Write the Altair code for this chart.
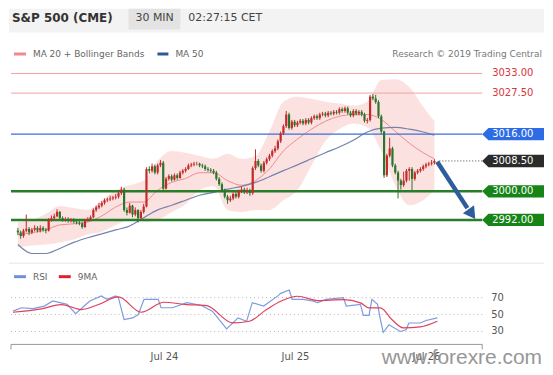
import altair as alt
import pandas as pd

FONT = "DejaVu Sans"
W = 537
H_PRICE = 255
H_RSI = 82

# ---------------- data ----------------
candle_idx = list(range(150))
opens = [
    2989.0, 2988.5, 2987.5, 2989.0, 2989.5, 2988.5, 2989.25, 2989.75, 2989.0, 2989.75,
    2989.25, 2989.0, 2992.0, 2992.5, 2993.0, 2994.25, 2992.5, 2992.0, 2992.25, 2991.75,
    2992.0, 2991.5, 2991.25, 2991.0, 2990.0, 2991.75, 2992.25, 2992.75, 2994.75, 2995.5,
    2996.0, 2996.75, 2997.5, 2997.75, 2998.0, 2998.25, 2998.5, 2999.5, 3000.5, 2994.75,
    2994.0, 2996.0, 2993.5, 2994.75, 2992.5, 2994.25, 2995.75, 3006.25, 3005.75, 3007.0,
    3005.25, 3007.25, 3008.0, 3000.75, 3003.5, 3004.25, 3003.25, 3004.5, 3003.75, 3005.25,
    3005.75, 3006.25, 3007.25, 3007.5, 3007.75, 3007.75, 3007.25, 3007.0, 3006.25, 3006.0,
    3005.75, 3005.25, 3003.5, 3002.0, 3000.25, 2998.5, 2997.5, 2998.0, 2999.25, 2998.5,
    3000.0, 3000.5, 2999.75, 3000.25, 2999.5, 3006.5, 3008.5, 3007.25, 3005.75, 3008.0,
    3009.0, 3010.0, 3011.25, 3012.0, 3014.0, 3016.25, 3018.25, 3021.5, 3017.75, 3019.5,
    3018.5, 3019.25, 3019.75, 3019.0, 3020.0, 3019.25, 3020.5, 3021.0, 3020.5, 3021.5,
    3021.75, 3021.25, 3022.0, 3021.75, 3022.25, 3022.0, 3023.0, 3022.5, 3023.25, 3022.0,
    3021.25, 3022.5, 3021.75, 3022.25, 3021.5, 3019.75, 3020.0, 3026.5, 3026.0, 3025.0,
    3021.0, 3016.75, 3004.5, 3010.0, 3012.0, 3007.25, 3005.25, 3003.0, 3001.75, 3003.0,
    3005.75, 3006.25, 3003.5, 3005.25, 3005.75, 3006.25, 3007.0, 3007.5, 3007.75, 3008.0,
]
closes = [
    2988.5, 2987.5, 2989.0, 2989.5, 2988.5, 2989.25, 2989.75, 2989.0, 2989.75, 2989.25,
    2989.0, 2992.0, 2992.5, 2993.0, 2994.25, 2992.5, 2992.0, 2992.25, 2991.75, 2992.0,
    2991.5, 2991.25, 2991.0, 2990.0, 2991.75, 2992.25, 2992.75, 2994.75, 2995.5, 2996.0,
    2996.75, 2997.5, 2997.75, 2998.0, 2998.25, 2998.5, 2999.5, 3000.5, 2994.75, 2994.0,
    2996.0, 2993.5, 2994.75, 2992.5, 2994.25, 2995.75, 3006.25, 3005.75, 3007.0, 3005.25,
    3007.25, 3008.0, 3000.75, 3003.5, 3004.25, 3003.25, 3004.5, 3003.75, 3005.25, 3005.75,
    3006.25, 3007.25, 3007.5, 3007.75, 3007.75, 3007.25, 3007.0, 3006.25, 3006.0, 3005.75,
    3005.25, 3003.5, 3002.0, 3000.25, 2998.5, 2997.5, 2998.0, 2999.25, 2998.5, 3000.0,
    3000.5, 2999.75, 3000.25, 2999.5, 3006.5, 3008.5, 3007.25, 3005.75, 3008.0, 3009.0,
    3010.0, 3011.25, 3012.0, 3014.0, 3016.25, 3018.25, 3021.5, 3017.75, 3019.5, 3018.5,
    3019.25, 3019.75, 3019.0, 3020.0, 3019.25, 3020.5, 3021.0, 3020.5, 3021.5, 3021.75,
    3021.25, 3022.0, 3021.75, 3022.25, 3022.0, 3023.0, 3022.5, 3023.25, 3022.0, 3021.25,
    3022.5, 3021.75, 3022.25, 3021.5, 3019.75, 3020.0, 3026.5, 3026.0, 3025.0, 3021.0,
    3016.75, 3004.5, 3010.0, 3012.0, 3007.25, 3005.25, 3003.0, 3001.75, 3003.0, 3005.75,
    3006.25, 3003.5, 3005.25, 3005.75, 3006.25, 3007.0, 3007.5, 3007.75, 3008.0, 3008.5,
]
highs = [
    2989.75, 2989.0, 2989.5, 2993.5, 2990.0, 2989.75, 2990.5, 2990.25, 2990.5, 2990.25,
    2989.75, 2992.5, 2993.25, 2993.75, 2995.0, 2994.5, 2993.0, 2992.75, 2992.75, 2992.5,
    2992.5, 2992.0, 2991.75, 2991.5, 2992.25, 2992.75, 2993.25, 2995.25, 2996.0, 2996.75,
    2997.25, 2998.0, 2998.25, 2998.75, 2998.75, 2999.25, 3000.0, 3001.25, 3001.0, 2995.5,
    2996.75, 2996.25, 2995.5, 2995.0, 2994.75, 2996.5, 3006.75, 3007.0, 3007.75, 3007.5,
    3007.75, 3008.75, 3008.5, 3004.0, 3004.75, 3004.75, 3005.0, 3005.0, 3005.75, 3006.25,
    3006.75, 3007.75, 3008.0, 3008.25, 3008.25, 3008.0, 3007.75, 3007.5, 3006.75, 3006.5,
    3006.25, 3005.75, 3004.0, 3002.5, 3000.75, 2999.0, 2998.75, 2999.75, 2999.75, 3000.5,
    3001.25, 3001.0, 3001.0, 3000.75, 3007.0, 3011.75, 3009.0, 3007.75, 3008.5, 3009.5,
    3010.5, 3011.75, 3012.75, 3014.5, 3016.75, 3018.75, 3022.5, 3022.0, 3020.0, 3020.0,
    3019.75, 3020.25, 3020.25, 3020.5, 3020.5, 3021.0, 3021.5, 3021.5, 3022.0, 3022.25,
    3022.25, 3022.5, 3022.5, 3022.75, 3022.75, 3023.5, 3023.5, 3023.75, 3023.75, 3022.5,
    3023.0, 3023.0, 3022.75, 3022.75, 3022.0, 3020.5, 3027.0, 3027.25, 3027.0, 3025.5,
    3021.5, 3017.0, 3010.5, 3015.0, 3012.5, 3007.75, 3005.75, 3003.5, 3005.5, 3006.25,
    3006.75, 3006.75, 3005.75, 3006.25, 3006.75, 3007.5, 3008.0, 3008.25, 3008.75, 3009.0,
]
lows = [
    2987.75, 2986.75, 2987.0, 2988.5, 2987.75, 2988.0, 2988.75, 2988.5, 2988.5, 2988.75,
    2988.25, 2988.75, 2991.5, 2992.0, 2992.75, 2992.0, 2991.5, 2991.5, 2991.25, 2991.25,
    2991.0, 2990.75, 2990.5, 2989.5, 2989.75, 2991.5, 2991.75, 2992.5, 2994.25, 2995.0,
    2995.5, 2996.25, 2997.0, 2997.25, 2997.5, 2997.75, 2998.0, 2999.0, 2994.25, 2993.25,
    2993.75, 2992.75, 2993.0, 2991.25, 2992.0, 2993.75, 2995.5, 3005.0, 3005.25, 3004.75,
    3004.75, 3006.75, 3000.25, 3000.5, 3003.0, 3002.75, 3003.0, 3003.25, 3003.5, 3004.75,
    3005.25, 3006.0, 3006.75, 3007.0, 3007.25, 3006.75, 3006.5, 3005.75, 3005.5, 3005.25,
    3004.75, 3003.0, 3001.5, 2999.75, 2998.0, 2996.5, 2997.0, 2997.5, 2998.0, 2998.0,
    2999.5, 2999.25, 2999.25, 2998.75, 2999.0, 3006.0, 3006.75, 3005.25, 3005.25, 3007.5,
    3008.5, 3009.5, 3010.75, 3011.5, 3013.5, 3015.75, 3017.75, 3017.25, 3017.25, 3018.0,
    3018.0, 3018.75, 3018.5, 3018.5, 3018.75, 3018.75, 3020.0, 3020.0, 3020.0, 3021.0,
    3020.75, 3020.75, 3021.25, 3021.25, 3021.5, 3021.5, 3022.0, 3022.0, 3021.5, 3020.75,
    3020.75, 3021.25, 3021.25, 3021.0, 3019.25, 3019.0, 3019.5, 3025.5, 3024.5, 3020.5,
    3016.0, 3003.75, 3004.0, 3009.5, 3006.75, 3004.75, 2998.0, 3000.5, 3001.25, 3002.5,
    3003.0, 3000.25, 3003.0, 3004.75, 3005.25, 3005.75, 3006.5, 3007.0, 3007.25, 3007.5,
]

ma_idx = [0, 5, 10, 15, 20, 25, 30, 35, 40, 45, 50, 55, 60, 65, 70, 75, 80, 85, 90, 95,
          100, 105, 110, 115, 120, 125, 130, 135, 140, 145, 149]
bb_upper = [2991.4, 2992.0, 2993.7, 2995.9, 2995.3, 2994.8, 2997.5, 3000.3, 3001.7, 3003.0,
            3008.6, 3011.3, 3010.8, 3009.9, 3009.1, 3010.5, 3009.1, 3009.9, 3016.8, 3025.1,
            3026.5, 3025.9, 3025.1, 3024.6, 3024.0, 3025.1, 3031.2, 3031.4, 3029.2, 3023.7, 3019.6]
ma20 = [2987.9, 2988.4, 2989.2, 2990.6, 2990.9, 2991.4, 2993.1, 2995.6, 2997.0, 2997.0,
        3000.3, 3002.5, 3003.6, 3005.2, 3005.2, 3003.0, 3001.7, 3003.0, 3006.3, 3011.3,
        3014.6, 3017.4, 3019.6, 3021.0, 3021.5, 3021.5, 3020.1, 3016.8, 3013.5, 3010.8, 3009.1]
bb_lower = [2984.3, 2984.8, 2985.1, 2985.7, 2986.5, 2987.9, 2988.7, 2990.6, 2992.0, 2991.4,
            2992.0, 2994.2, 2996.4, 3000.3, 3001.4, 2994.8, 2994.2, 2994.8, 2994.8, 2997.5,
            3000.3, 3007.2, 3014.1, 3017.4, 3019.0, 3017.9, 3011.3, 3001.7, 2996.1, 2997.5, 3000.3]
ma50 = [2985.1, 2982.6, 2982.6, 2984.0, 2985.7, 2987.0, 2988.1, 2989.2, 2990.3, 2992.6,
        2994.8, 2996.1, 2997.5, 2998.9, 2999.7, 3000.6, 3001.4, 3002.5, 3004.1, 3005.8,
        3007.4, 3009.1, 3010.8, 3012.4, 3014.3, 3016.6, 3017.7, 3017.9, 3017.4, 3016.6, 3015.7]

resist_levels = [3033.0, 3027.5]
pivot_level = 3016.0
last_level = 3008.5
support_levels = [3000.0, 2992.0]

arrow_idx = [150.0, 160.8]
arrow_price = [3008.3, 2995.3]
arrow_head_idx = [162.4]
arrow_head_price = [2993.6]

rsi_idx = [0, 3, 7, 11, 14, 19, 22, 25, 27, 31, 33, 36, 37, 39, 42, 44, 46, 51, 52, 56,
           61, 66, 70, 75, 79, 82, 84, 88, 93, 94, 97, 98, 102, 105, 107, 110, 116, 117, 122, 123,
           125, 126, 128, 129, 130, 132, 136, 138, 139, 143, 145, 149]
rsi_vals = [54, 58, 57, 60, 66, 62, 51, 60, 66, 72, 68, 72, 70, 44, 46, 50, 68, 68, 58, 58,
            64, 61, 54, 33, 46, 42, 64, 60, 72, 75, 79, 68, 68, 66, 64, 68, 70, 60, 62, 49,
            49, 68, 62, 44, 29, 38, 30, 32, 40, 40, 43, 46]
ma9_idx = [0, 10, 17, 24, 30, 37, 45, 53, 61, 68, 77, 83, 89, 94, 100, 107, 116, 122, 125, 129,
           133, 137, 143, 149]
ma9_vals = [52.7, 56.7, 61.8, 55.9, 61.8, 70.8, 52.7, 64.5, 61.8, 60.6, 40.2, 42.1, 55.9, 65.7,
            71.6, 66.5, 67.6, 63.8, 57.8, 57.8, 44.1, 34.3, 35.5, 42.1]
rsi_levels = [70, 50, 30]

date_ticks = [53, 99, 145]
date_labels = ["Jul 24", "Jul 25", "Jul 26"]

# ---------------- helpers ----------------
XDOM = [-1.4, 186.43]
one = pd.DataFrame({"k": [0]})


def xs():
    return alt.Scale(domain=XDOM, nice=False, zero=False)


PY = alt.Scale(domain=[2980.01, 3051.14], nice=False, zero=False)
RY = alt.Scale(domain=[14.71, 111.18], nice=False, zero=False)


def label(txt, x, y, size=9, color="#666", weight="normal", align="left"):
    return alt.Chart(one).mark_text(
        text=txt, align=align, baseline="middle", fontSize=size, color=color,
        fontWeight=weight, font=FONT
    ).encode(x=alt.value(x), y=alt.value(y))


def box(x1, x2, y1, y2, color):
    return alt.Chart(one).mark_rect(color=color).encode(
        x=alt.value(x1), x2=alt.value(x2), y=alt.value(y1), y2=alt.value(y2)
    )


# ---------------- price panel ----------------
df_c = pd.DataFrame({"i": candle_idx, "open": opens, "high": highs, "low": lows, "close": closes})
df_c["dir"] = ["up" if c >= o else "down" for o, c in zip(opens, closes)]
df_ma = pd.DataFrame({"i": ma_idx, "up": bb_upper, "mid": ma20, "lo": bb_lower, "ma50": ma50})

candle_color = alt.Color("dir:N", scale=alt.Scale(domain=["up", "down"], range=["#c22c28", "#2b742b"]), legend=None)

band = alt.Chart(df_ma).mark_area(color="#fbd9d9", opacity=0.8, interpolate="monotone").encode(
    x=alt.X("i:Q", scale=xs(), axis=None), y=alt.Y("up:Q", scale=PY, axis=None), y2="lo:Q")
mid = alt.Chart(df_ma).mark_line(color="#ee8c8c", strokeWidth=1, interpolate="monotone").encode(
    x=alt.X("i:Q", scale=xs(), axis=None), y=alt.Y("mid:Q", scale=PY, axis=None))
slow = alt.Chart(df_ma).mark_line(color="#7483ad", strokeWidth=1.2, interpolate="monotone").encode(
    x=alt.X("i:Q", scale=xs(), axis=None), y=alt.Y("ma50:Q", scale=PY, axis=None))


def hline(levels, color, width, dash=None, x1=2, x2=475):
    kw = dict(color=color, strokeWidth=width)
    if dash:
        kw["strokeDash"] = dash
    return alt.Chart(pd.DataFrame({"p": levels})).mark_rule(**kw).encode(
        y=alt.Y("p:Q", scale=PY, axis=None), x=alt.value(x1), x2=alt.value(x2))


wick = alt.Chart(df_c).mark_rule(strokeWidth=1).encode(
    x=alt.X("i:Q", scale=xs(), axis=None), y=alt.Y("low:Q", scale=PY, axis=None), y2="high:Q",
    color=candle_color)
body = alt.Chart(df_c).mark_bar(size=2.2).encode(
    x=alt.X("i:Q", scale=xs(), axis=None), y=alt.Y("open:Q", scale=PY, axis=None), y2="close:Q",
    color=candle_color)

TAG = "M-1,0L-0.8,-0.2L1,-0.2L1,0.2L-0.8,0.2Z"


def tag(level, fill, text_color):
    d = pd.DataFrame({"p": [level], "t": [f"{level:.2f}"]})
    layers = []
    if fill:
        layers.append(alt.Chart(d).mark_point(shape=TAG, size=62 * 62, filled=True, color=fill,
                                              opacity=1, strokeWidth=0).encode(
            x=alt.value(506), y=alt.Y("p:Q", scale=PY, axis=None)))
    layers.append(alt.Chart(d).mark_text(align="left", baseline="middle", fontSize=10, font=FONT,
                                         color=text_color).encode(
        x=alt.value(485), y=alt.Y("p:Q", scale=PY, axis=None), text="t:N"))
    return layers


df_arrow = pd.DataFrame({"i": arrow_idx, "p": arrow_price})
arrow = alt.Chart(df_arrow).mark_line(color="#2f5d9c", strokeWidth=4.5).encode(
    x=alt.X("i:Q", scale=xs(), axis=None), y=alt.Y("p:Q", scale=PY, axis=None))
head = alt.Chart(pd.DataFrame({"i": arrow_head_idx, "p": arrow_head_price})).mark_point(
    shape="triangle-down", filled=True, size=190, angle=325, color="#2f5d9c", opacity=1).encode(
    x=alt.X("i:Q", scale=xs(), axis=None), y=alt.Y("p:Q", scale=PY, axis=None))

price_layers = [
    box(0, W, 0, 24, "#f3f3f3"),
    box(120, 172, 0, 21, "#e3e3e3"),
    label("S&P 500 (CME)", 3, 9.5, 12, "#333", "bold"),
    label("30 MIN", 127, 9.5, 11, "#444"),
    label("02:27:15 CET", 180, 9.5, 11, "#444"),
    box(5, 17, 44, 47, "#f08a8a"),
    label("MA 20 + Bollinger Bands", 24, 45.5, 9, "#666"),
    box(149, 160, 44, 47, "#2d5a96"),
    label("MA 50", 167, 45.5, 9, "#666"),
    label("Research \u00a9 2019 Trading Central", 535, 45.5, 9, "#777", align="right"),
    band, mid, slow,
    hline(resist_levels, "#f2a3a3", 1),
    hline([pivot_level], "#3a6fd8", 1.2),
    hline(support_levels, "#2a7d2a", 2.5),
    hline([last_level], "#444", 1, dash=[1, 2], x1=432, x2=475),
    wick, body, arrow, head,
]
price_layers += tag(resist_levels[0], None, "#d8343c")
price_layers += tag(resist_levels[1], None, "#d8343c")
price_layers += tag(pivot_level, "#2d6ce4", "white")
price_layers += tag(last_level, "#2b2b2b", "white")
price_layers += tag(support_levels[0], "#168416", "white")
price_layers += tag(support_levels[1], "#168416", "white")

price = alt.layer(*price_layers).properties(width=W, height=H_PRICE)

# ---------------- RSI panel ----------------
expr = "''"
for t, l in reversed(list(zip(date_ticks, date_labels))):
    expr = f"datum.value == {t} ? '{l}' : ({expr})"
x_axis = alt.Axis(values=date_ticks, labelExpr=expr, domain=False, ticks=False, grid=False,
                  title=None, labelFontSize=10, labelColor="#555", labelFont=FONT, labelPadding=7)

df_rsi = pd.DataFrame({"i": rsi_idx, "v": rsi_vals})
df_ma9 = pd.DataFrame({"i": ma9_idx, "v": ma9_vals})
rsi_line = alt.Chart(df_rsi).mark_line(color="#7d9be0", strokeWidth=1.2).encode(
    x=alt.X("i:Q", scale=xs(), axis=x_axis), y=alt.Y("v:Q", scale=RY, axis=None))
ma9_line = alt.Chart(df_ma9).mark_line(color="#e0405a", strokeWidth=1.2, interpolate="monotone").encode(
    x=alt.X("i:Q", scale=xs(), axis=x_axis), y=alt.Y("v:Q", scale=RY, axis=None))
df_lv = pd.DataFrame({"v": rsi_levels, "t": [str(v) for v in rsi_levels]})
lv_rule = alt.Chart(df_lv).mark_rule(color="#b8b8b8", strokeDash=[1, 3], strokeWidth=1).encode(
    y=alt.Y("v:Q", scale=RY, axis=None), x=alt.value(2), x2=alt.value(475))
lv_text = alt.Chart(df_lv).mark_text(align="left", baseline="middle", fontSize=10, font=FONT,
                                     color="#555").encode(
    y=alt.Y("v:Q", scale=RY, axis=None), x=alt.value(484), text="t:N")


def seg(x1, x2, y1, y2, color, w=1):
    return alt.Chart(one).mark_rule(color=color, strokeWidth=w).encode(
        x=alt.value(x1), x2=alt.value(x2), y=alt.value(y1), y2=alt.value(y2))


rsi_layers = [
    seg(0, W, 0.5, 0.5, "#e6e6e6"),
    box(5, 17, 12.5, 15.5, "#6f8fd8"),
    label("RSI", 24, 14, 9, "#666"),
    box(50, 62, 12.5, 15.5, "#e02030"),
    label("9MA", 69, 14, 9, "#666"),
    lv_rule, lv_text, rsi_line, ma9_line,
    seg(2, 475, 82, 82, "#999"),
    seg(2, 2, 82, 87, "#999"),
    seg(475, 475, 82, 87, "#999"),
    alt.Chart(one).mark_text(text="www.forexre.com", align="right", baseline="alphabetic",
                             fontSize=21, font="Liberation Sans", color="#8c8c8c",
                             opacity=0.9).encode(x=alt.value(535), y=alt.value(102)),
]
rsi = alt.layer(*rsi_layers).properties(width=W, height=H_RSI)

chart = alt.vconcat(price, rsi, spacing=0).resolve_scale(
    x="independent", y="independent", color="independent"
).properties(padding=0).configure_view(strokeWidth=0)

chart.save("out.html", embed_options={"renderer": "svg", "actions": False})
